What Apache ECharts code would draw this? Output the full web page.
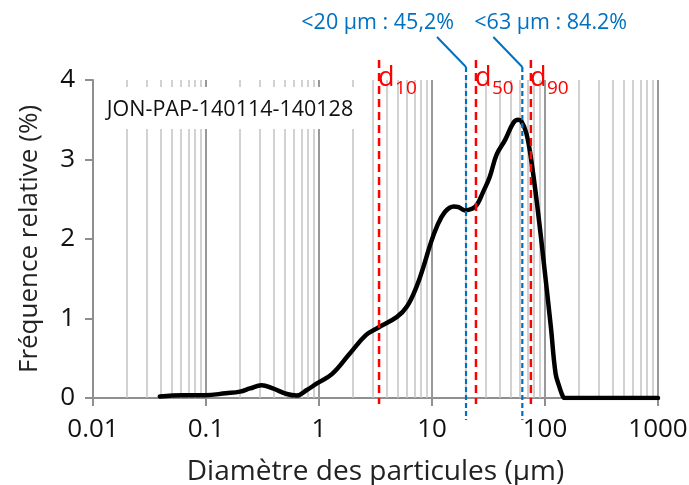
<!DOCTYPE html>
<html>
<head>
<meta charset="utf-8">
<script src="https://cdn.jsdelivr.net/npm/echarts@6/dist/echarts.min.js"></script>
<style>
html,body{margin:0;padding:0;background:#fff;}
#chart{width:689px;height:485px;}
</style>
</head>
<body>
<div id="chart"></div>
<script>
// ---- data ----
const sizes = [0.039, 0.063, 0.098, 0.15, 0.20, 0.245, 0.31, 0.39, 0.52, 0.63, 0.78, 0.95, 1.3, 1.85, 2.6, 3.3, 4.9, 6.0, 7.3, 8.4, 9.6, 11.0, 13.0, 15.6, 17.2, 19.6, 22.6, 25.0, 28.3, 32.4, 37.3, 44.5, 52.4, 57.9, 61.9, 68.4, 75.6, 86.4, 98.5, 112.6, 124, 134, 144, 150, 1000];
const freq  = [0.02, 0.035, 0.035, 0.06, 0.08, 0.12, 0.16, 0.12, 0.05, 0.03, 0.10, 0.18, 0.30, 0.55, 0.79, 0.88, 1.02, 1.15, 1.40, 1.65, 1.92, 2.15, 2.34, 2.41, 2.40, 2.36, 2.38, 2.43, 2.59, 2.78, 3.06, 3.25, 3.46, 3.50, 3.48, 3.33, 2.99, 2.36, 1.65, 0.90, 0.31, 0.14, 0.02, 0, 0];
const xTickLabels = ['0.01', '0.1', '1', '10', '100', '1000'];
const yTicks = [0, 1, 2, 3, 4];
const majorGrid = [0.1, 1, 10, 100, 1000];
const minorMult = [2, 3, 4, 5, 6, 7, 8, 9];
const decades = [0.01, 0.1, 1, 10, 100];
const dValues = [{name: '10', v: 3.4}, {name: '50', v: 24.5}, {name: '90', v: 75}];
const limits = [{v: 20, text: '<20 µm : 45,2%'}, {v: 63, text: '<63 µm : 84.2%'}];
const sampleName = 'JON-PAP-140114-140128';

const minorGrid = [];
decades.forEach(d => minorMult.forEach(m => minorGrid.push(+(d * m).toPrecision(3))));

const FONT = 'Open Sans';
const chart = echarts.init(document.getElementById('chart'));

const gridLines = minorGrid.map(v => ({xAxis: v, lineStyle: {color: '#c3c3c3', width: 1.5, type: 'solid'}}))
  .concat(majorGrid.map(v => ({xAxis: v, lineStyle: {color: '#999999', width: 2, type: 'solid'}})));

chart.setOption({
  animation: false,
  backgroundColor: '#fff',
  grid: {left: 93, right: 31, top: 80, bottom: 87, containLabel: false, outerBoundsMode: 'none'},
  xAxis: {
    type: 'log', logBase: 10, min: 0.01, max: 1000,
    name: 'Diamètre des particules (µm)', nameLocation: 'middle', nameGap: 60,
    nameTextStyle: {fontFamily: FONT, fontSize: 28, color: '#222'},
    axisLine: {show: true, lineStyle: {color: '#8f8f8f', width: 2}},
    axisTick: {show: true, length: 8, lineStyle: {color: '#8f8f8f', width: 2}},
    axisLabel: {
      fontFamily: FONT, fontSize: 26, color: '#111', margin: 19,
      formatter: v => xTickLabels[Math.round(Math.log10(v)) + 2]
    },
    splitLine: {show: false}, minorTick: {show: false}
  },
  yAxis: {
    type: 'value', min: yTicks[0], max: yTicks[yTicks.length - 1], interval: 1,
    name: 'Fréquence relative (%)', nameLocation: 'middle', nameGap: 50,
    nameTextStyle: {fontFamily: FONT, fontSize: 26, color: '#222'},
    axisLine: {show: true, lineStyle: {color: '#8f8f8f', width: 2}},
    axisTick: {show: true, length: 8, lineStyle: {color: '#8f8f8f', width: 2}},
    axisLabel: {fontFamily: FONT, fontSize: 26, color: '#111', margin: 18},
    splitLine: {show: false}
  },
  series: [
    {
      type: 'line', data: [], z: 1, silent: true,
      markLine: {silent: true, symbol: ['none', 'none'], label: {show: false}, animation: false, data: gridLines}
    },
    {
      type: 'line', z: 5, silent: true,
      data: sizes.map((x, i) => [x, freq[i]]),
      smooth: 0.4, showSymbol: false, symbol: 'none',
      lineStyle: {color: '#000', width: 4.5, join: 'round', cap: 'round'}
    }
  ]
});

// ---- annotations placed through the axis scales ----
const px = (x, y) => chart.convertToPixel({gridIndex: 0}, [x, y]);
const yTopPx = px(1, 4)[1];
const y0Px = px(1, 0)[1];
const x0Px = px(0.01, 0)[0];
const graphics = [];

// sample label box (white background hides grid lines)
graphics.push({
  type: 'rect', z: 50, silent: true,
  shape: {x: x0Px + 3, y: yTopPx + 7, width: 272, height: 42},
  style: {fill: '#fff'}
});
graphics.push({
  type: 'text', z: 51, silent: true, x: x0Px + 137, y: yTopPx + 30,
  style: {text: sampleName, fontFamily: FONT, fontSize: 21.5, fill: '#111', align: 'center', verticalAlign: 'middle'}
});

// d10 / d50 / d90 red dashed lines
dValues.forEach(d => {
  const x = px(d.v, 0)[0];
  graphics.push({
    type: 'line', z: 60, silent: true,
    shape: {x1: x, y1: yTopPx - 20, x2: x, y2: y0Px + 6},
    style: {stroke: '#ff0000', lineWidth: 2.5, lineDash: [8, 5]}
  });
  graphics.push({
    type: 'text', z: 61, silent: true, x: x - 1, y: yTopPx - 2,
    style: {text: 'd', fontFamily: FONT, fontSize: 27, fill: '#ff0000', align: 'left', verticalAlign: 'middle'}
  });
  graphics.push({
    type: 'text', z: 61, silent: true, x: x + 16, y: yTopPx + 9,
    style: {text: d.name, fontFamily: FONT, fontSize: 19, fill: '#ff0000', align: 'left', verticalAlign: 'middle'}
  });
});

// 20 µm / 63 µm blue dashed lines with leaders and labels
limits.forEach((l, i) => {
  const x = px(l.v, 0)[0];
  graphics.push({
    type: 'line', z: 62, silent: true,
    shape: {x1: x, y1: yTopPx - 13, x2: x, y2: y0Px + 22},
    style: {stroke: '#0070c0', lineWidth: 2.2, lineDash: [5, 3]}
  });
  graphics.push({
    type: 'line', z: 62, silent: true,
    shape: {x1: x - 29, y1: yTopPx - 43, x2: x, y2: yTopPx - 13},
    style: {stroke: '#0070c0', lineWidth: 2}
  });
  graphics.push({
    type: 'text', z: 63, silent: true,
    x: i === 0 ? x - 12 : x - 48, y: yTopPx - 57,
    style: {text: l.text, fontFamily: FONT, fontSize: 21.5, fill: '#0070c0', align: i === 0 ? 'right' : 'left', verticalAlign: 'middle'}
  });
});

chart.setOption({graphic: graphics});
</script>
</body>
</html>
